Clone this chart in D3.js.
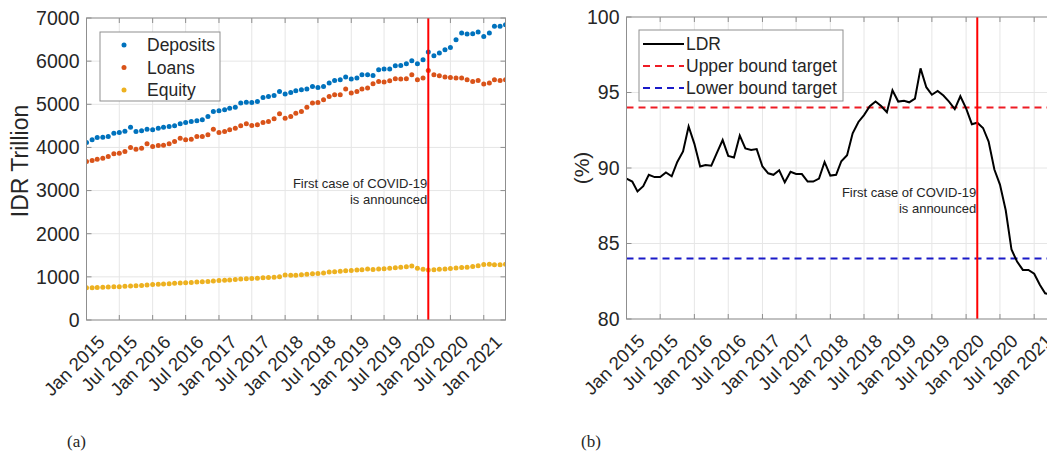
<!DOCTYPE html>
<html>
<head>
<meta charset="utf-8">
<script src="https://cdn.jsdelivr.net/npm/d3@7"></script>
<style>
  body { margin: 0; background: #fff; }
  svg { display: block; }
  text { font-family: "Liberation Sans", Arial, sans-serif; fill: #262626; }
</style>
</head>
<body>
<div id="chart"></div>
<script>
// monthly observations, Jan 2015 .. May 2021
var startMonth = "Jan 2015";
var nMonths = 77;

var deposits = [4114, 4176, 4230, 4238, 4253, 4331, 4346, 4377, 4470, 4370, 4385, 4424,
                4408, 4447, 4470, 4485, 4501, 4548, 4578, 4601, 4617, 4640, 4717, 4833,
                4849, 4872, 4911, 4934, 5027, 5050, 5042, 5066, 5158, 5181, 5204, 5297,
                5236, 5274, 5313, 5336, 5352, 5413, 5390, 5413, 5491, 5552, 5568, 5630,
                5584, 5607, 5684, 5684, 5669, 5800, 5816, 5816, 5893, 5901, 5940, 6009,
                5940, 6032, 6211, 6125, 6187, 6265, 6318, 6497, 6652, 6629, 6636, 6675,
                6574, 6652, 6806, 6806, 6845];

var loans = [3673, 3696, 3728, 3751, 3789, 3852, 3867, 3905, 3998, 3960, 3983, 4084,
             4022, 4045, 4053, 4084, 4138, 4215, 4176, 4192, 4253, 4253, 4292, 4424,
             4346, 4370, 4408, 4447, 4501, 4548, 4509, 4524, 4578, 4601, 4664, 4780,
             4679, 4717, 4795, 4833, 4934, 5027, 5042, 5104, 5181, 5220, 5220, 5352,
             5259, 5297, 5352, 5375, 5476, 5529, 5514, 5545, 5592, 5584, 5592, 5684,
             5568, 5607, 5784, 5684, 5661, 5630, 5622, 5607, 5607, 5568, 5529, 5552,
             5468, 5491, 5568, 5552, 5568];

var equity = [745, 748, 752, 758, 763, 768, 773, 780, 786, 793, 800, 812,
              825, 830, 836, 842, 850, 858, 865, 872, 880, 888, 895, 905,
              915, 922, 930, 940, 948, 955, 962, 970, 978, 985, 993, 1005,
              1045, 1035, 1040, 1050, 1060, 1070, 1080, 1090, 1110, 1120, 1130, 1140,
              1150, 1158, 1165, 1180, 1170, 1180, 1190, 1200, 1210, 1220, 1235, 1250,
              1200, 1175, 1160, 1165, 1175, 1185, 1195, 1205, 1215, 1225, 1240, 1260,
              1285, 1290, 1280, 1278, 1290];

var ldr = [89.3, 89.1, 88.45, 88.8, 89.55, 89.4, 89.4, 89.7, 89.45, 90.4, 91.1, 92.75,
           91.6, 90.1, 90.2, 90.15, 91.0, 91.85, 90.8, 90.7, 92.15, 91.3, 91.2, 91.25,
           90.1, 89.65, 89.55, 89.85, 89.05, 89.75, 89.6, 89.6, 89.1, 89.1, 89.3, 90.4,
           89.5, 89.55, 90.45, 90.85, 92.3, 93.05, 93.5, 94.1, 94.4, 94.1, 93.7, 95.15,
           94.4, 94.45, 94.35, 94.6, 96.6, 95.35, 94.85, 95.1, 94.8, 94.4, 93.9, 94.75,
           93.95, 92.9, 93.0, 92.65, 91.75, 89.9, 88.9, 87.2, 84.6, 83.8, 83.25, 83.25,
           83.0, 82.25, 81.7, 81.6, 81.8];

var upperBound = 94;
var lowerBound = 84;
var covidMonth = "Mar 2020";

var tickLabels = ["Jan 2015", "Jul 2015", "Jan 2016", "Jul 2016", "Jan 2017", "Jul 2017",
                  "Jan 2018", "Jul 2018", "Jan 2019", "Jul 2019", "Jan 2020", "Jul 2020", "Jan 2021"];
var leftTicks = [0, 1000, 2000, 3000, 4000, 5000, 6000, 7000];
var rightTicks = [80, 85, 90, 95, 100];

var parse = d3.utcParse("%b %Y");
var t0 = parse(startMonth);
var dates = d3.range(nMonths).map(function(i){ return d3.utcMonth.offset(t0, i); });
var tickDates = tickLabels.map(parse);
var covidDate = parse(covidMonth);

var W = 1047, H = 457;
var svg = d3.select("#chart").append("svg").attr("width", W).attr("height", H);
svg.append("rect").attr("width", W).attr("height", H).attr("fill", "#fff");

var axisColor = "#8f8f8f";
var gridColor = "#e6e6e6";

function drawFrame(g, x, y, yTicks, left, right, top, bottom, id) {
    // grid
    g.selectAll(".gx").data(tickDates).enter().append("line")
        .attr("x1", function(d){ return x(d); }).attr("x2", function(d){ return x(d); })
        .attr("y1", top).attr("y2", bottom)
        .attr("stroke", gridColor).attr("stroke-width", 1);
    g.selectAll(".gy").data(yTicks).enter().append("line")
        .attr("x1", left).attr("x2", right)
        .attr("y1", function(d){ return y(d); }).attr("y2", function(d){ return y(d); })
        .attr("stroke", gridColor).attr("stroke-width", 1);

    g.append("defs").append("clipPath").attr("id", id)
        .append("rect").attr("x", left).attr("y", top)
        .attr("width", right - left).attr("height", bottom - top);
}

function drawAxes(g, x, y, yTicks, left, right, top, bottom) {
    var tk = 5;
    // inward ticks on all four sides
    tickDates.forEach(function(d){
        g.append("line").attr("x1", x(d)).attr("x2", x(d)).attr("y1", bottom).attr("y2", bottom - tk)
            .attr("stroke", axisColor);
        g.append("line").attr("x1", x(d)).attr("x2", x(d)).attr("y1", top).attr("y2", top + tk)
            .attr("stroke", axisColor);
    });
    yTicks.forEach(function(v){
        g.append("line").attr("x1", left).attr("x2", left + tk).attr("y1", y(v)).attr("y2", y(v))
            .attr("stroke", axisColor);
        g.append("line").attr("x1", right).attr("x2", right - tk).attr("y1", y(v)).attr("y2", y(v))
            .attr("stroke", axisColor);
    });
    g.append("rect").attr("x", left).attr("y", top)
        .attr("width", right - left).attr("height", bottom - top)
        .attr("fill", "none").attr("stroke", axisColor).attr("stroke-width", 1);

    // tick labels
    g.selectAll(".yl").data(yTicks).enter().append("text")
        .attr("x", left - 7).attr("y", function(d){ return y(d); })
        .attr("dy", "0.35em").attr("text-anchor", "end")
        .attr("font-size", "19.5px").text(function(d){ return d; });
    g.selectAll(".xl").data(tickDates).enter().append("text")
        .attr("transform", function(d){ return "translate(" + (x(d) + 10) + "," + (bottom + 14) + ") rotate(-45)"; })
        .attr("text-anchor", "end").attr("dy", "0.7em")
        .attr("font-size", "18.5px")
        .text(function(d, i){ return tickLabels[i]; });
}

// ---------- (a) ----------
var aL = 86.5, aR = 505.5, aT = 18, aB = 320;
var xA = d3.scaleUtc().domain([t0, dates[nMonths - 1]]).range([aL, aR]);
var yA = d3.scaleLinear().domain([0, 7000]).range([aB, aT]);
var gA = svg.append("g");
drawFrame(gA, xA, yA, leftTicks, aL, aR, aT, aB, "clipA");

var series = [
    {name: "Deposits", values: deposits, color: "#0072BD"},
    {name: "Loans", values: loans, color: "#D95319"},
    {name: "Equity", values: equity, color: "#EDB120"}
];
series.forEach(function(s){
    gA.append("g").attr("clip-path", "url(#clipA)")
        .selectAll("circle").data(s.values).enter().append("circle")
        .attr("cx", function(d, i){ return xA(dates[i]); })
        .attr("cy", function(d){ return yA(d); })
        .attr("r", 2.5).attr("fill", s.color);
});

gA.append("line").attr("x1", xA(covidDate)).attr("x2", xA(covidDate))
    .attr("y1", aT).attr("y2", aB).attr("stroke", "#ff0000").attr("stroke-width", 2);
gA.append("text").attr("x", xA(covidDate) - 1).attr("y", yA(3050))
    .attr("text-anchor", "end").attr("font-size", "13px").text("First case of COVID-19");
gA.append("text").attr("x", xA(covidDate) - 1).attr("y", yA(3050) + 16)
    .attr("text-anchor", "end").attr("font-size", "13px").text("is announced");

drawAxes(gA, xA, yA, leftTicks, aL, aR, aT, aB);

// legend (a)
var lgA = gA.append("g").attr("transform", "translate(100,32)");
lgA.append("rect").attr("width", 120).attr("height", 69)
    .attr("fill", "#fff").attr("stroke", axisColor);
series.forEach(function(s, i){
    lgA.append("circle").attr("cx", 24).attr("cy", 13 + i * 22.5).attr("r", 2.5).attr("fill", s.color);
    lgA.append("text").attr("x", 47).attr("y", 13 + i * 22.5).attr("dy", "0.35em")
        .attr("font-size", "17.5px").text(s.name);
});

gA.append("text").attr("transform", "translate(28,161) rotate(-90)")
    .attr("text-anchor", "middle").attr("font-size", "23px").text("IDR Trillion");

// ---------- (b) ----------
var bL = 626.5, bR = 1056.5, bT = 17, bB = 319;
var xB = d3.scaleUtc().domain([t0, dates[nMonths - 1]]).range([bL, bR]);
var yB = d3.scaleLinear().domain([80, 100]).range([bB, bT]);
var gB = svg.append("g");
drawFrame(gB, xB, yB, rightTicks, bL, bR, bT, bB, "clipB");

var plotB = gB.append("g").attr("clip-path", "url(#clipB)");
plotB.append("line").attr("x1", bL).attr("x2", bR)
    .attr("y1", yB(upperBound)).attr("y2", yB(upperBound))
    .attr("stroke", "#ee1c25").attr("stroke-width", 2).attr("stroke-dasharray", "7,5");
plotB.append("line").attr("x1", bL).attr("x2", bR)
    .attr("y1", yB(lowerBound)).attr("y2", yB(lowerBound))
    .attr("stroke", "#1a1ac8").attr("stroke-width", 2).attr("stroke-dasharray", "7,5");
plotB.append("path").datum(ldr)
    .attr("d", d3.line().x(function(d, i){ return xB(dates[i]); }).y(function(d){ return yB(d); }))
    .attr("fill", "none").attr("stroke", "#000").attr("stroke-width", 2);

gB.append("line").attr("x1", xB(covidDate)).attr("x2", xB(covidDate))
    .attr("y1", bT).attr("y2", bB).attr("stroke", "#ff0000").attr("stroke-width", 2);
gB.append("text").attr("x", xB(covidDate) - 1).attr("y", yB(88.1))
    .attr("text-anchor", "end").attr("font-size", "13px").text("First case of COVID-19");
gB.append("text").attr("x", xB(covidDate) - 1).attr("y", yB(88.1) + 16)
    .attr("text-anchor", "end").attr("font-size", "13px").text("is announced");

drawAxes(gB, xB, yB, rightTicks, bL, bR, bT, bB);

var lgB = gB.append("g").attr("transform", "translate(639,30)");
lgB.append("rect").attr("width", 204).attr("height", 71)
    .attr("fill", "#fff").attr("stroke", axisColor);
var bItems = [
    {name: "LDR", color: "#000", dash: null},
    {name: "Upper bound target", color: "#ee1c25", dash: "7,5"},
    {name: "Lower bound target", color: "#1a1ac8", dash: "7,5"}
];
bItems.forEach(function(s, i){
    lgB.append("line").attr("x1", 4).attr("x2", 45)
        .attr("y1", 14 + i * 22).attr("y2", 14 + i * 22)
        .attr("stroke", s.color).attr("stroke-width", 2)
        .attr("stroke-dasharray", s.dash);
    lgB.append("text").attr("x", 47).attr("y", 14 + i * 22).attr("dy", "0.35em")
        .attr("font-size", "17.5px").text(s.name);
});

gB.append("text").attr("transform", "translate(589,168) rotate(-90)")
    .attr("text-anchor", "middle").attr("font-size", "21px").text("(%)");

// panel letters
svg.append("text").attr("x", 67).attr("y", 447)
    .style("font-family", "'Liberation Serif', serif").attr("font-size", "17px").text("(a)");
svg.append("text").attr("x", 581).attr("y", 447)
    .style("font-family", "'Liberation Serif', serif").attr("font-size", "17px").text("(b)");
</script>
</body>
</html>
